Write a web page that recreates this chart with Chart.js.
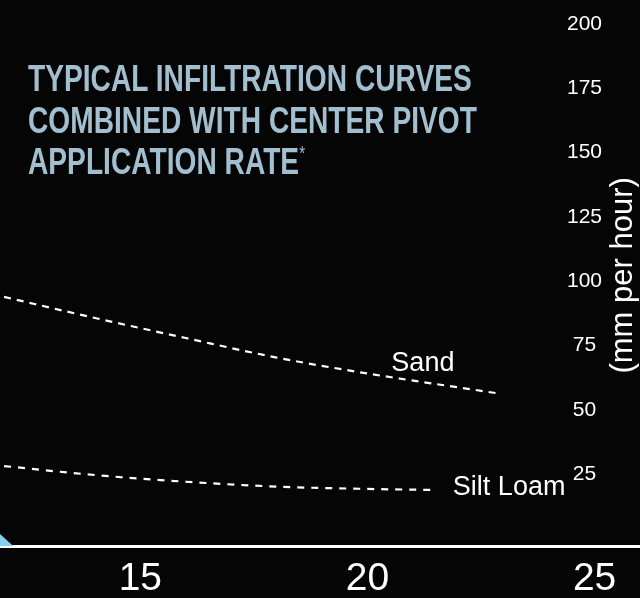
<!DOCTYPE html>
<html>
<head>
<meta charset="utf-8">
<script src="https://cdn.jsdelivr.net/npm/chart.js@4"></script>
<style>
  html, body { margin: 0; padding: 0; background: #050505; }
  #wrap { position: relative; width: 640px; height: 598px; overflow: hidden; }
  #title {
    position: absolute; left: 28px; top: 58px; margin: 0;
    display: inline-block; white-space: nowrap;
    font-family: "Liberation Sans", Arial, sans-serif;
    font-weight: bold; font-size: 37px; line-height: 41.5px;
    color: #a2bfcf; transform-origin: 0 0;
  }
  #title sup { font-size: 20px; vertical-align: 14px; line-height: 0; font-weight: normal; }
</style>
</head>
<body>
<div id="wrap">
  <canvas id="rateChart" width="640" height="598"></canvas>
  <h1 id="title">TYPICAL INFILTRATION CURVES<br>COMBINED WITH CENTER PIVOT<br>APPLICATION RATE<sup>*</sup></h1>
</div>
<script>
// valori (ore / mm per ora)
const xTicks = [15, 20, 25];
const yTicks = [25, 50, 75, 100, 125, 150, 175, 200];

const sandTime = [12, 14, 16, 18, 20, 22, 22.9];
const sandRate = [93.9, 85.7, 77.9, 70.3, 64.1, 58.7, 56.3];

const siltTime = [12, 14, 16, 18, 20, 21.5];
const siltRate = [28.1, 24.6, 22.0, 20.1, 19.2, 18.8];

// coda della curva di applicazione del pivot
const pivotTime = [11.6, 12.2];
const pivotRate = [6.7, -3];

const curveNames = ["Sand", "Silt Loam"];
const nameTime = [21.22, 21.88];
const nameRate = [67.8, 19.6];

const yTitle = "(mm per hour)";

// titolo stretto come un font condensed
const title = document.getElementById("title");
title.style.transform = "scaleX(" + (449 / title.offsetWidth) + ")";

const toPoints = (xs, ys) => xs.map((x, i) => ({ x: x, y: ys[i] }));

// etichette delle curve + titolo asse ruotato
const curveLabels = {
    id: 'curveLabels',
    afterDatasetsDraw(chart) {
        const ctx = chart.ctx;
        const xs = chart.scales.x;
        const ys = chart.scales.y;
        ctx.save();
        ctx.fillStyle = '#ffffff';
        ctx.font = '27px "Liberation Sans", Arial, sans-serif';
        ctx.textBaseline = 'middle';
        curveNames.forEach((name, i) => {
            ctx.textAlign = i == 0 ? 'center' : 'left';
            ctx.fillText(name, xs.getPixelForValue(nameTime[i]), ys.getPixelForValue(nameRate[i]));
        });
        // titolo asse y, letto dal basso verso l'alto
        ctx.font = '31px "Liberation Sans", Arial, sans-serif';
        ctx.textAlign = 'center';
        ctx.translate(chart.width - 17, (ys.getPixelForValue(100) + ys.getPixelForValue(75)) / 2 - 38);
        ctx.rotate(-Math.PI / 2);
        ctx.fillText(yTitle, 0, 0);
        ctx.restore();
    }
};

const ctx = document.getElementById('rateChart').getContext('2d');
const rateChart = new Chart(ctx, {
    type: 'line',
    data: {
        datasets: [{
            label: 'Pivot',
            data: toPoints(pivotTime, pivotRate),
            borderWidth: 0,
            backgroundColor: '#86cff0',
            fill: 'start',
            pointRadius: 0
        }, {
            label: 'Sand',
            data: toPoints(sandTime, sandRate),
            borderColor: '#ffffff',
            borderWidth: 2.2,
            borderDash: [7, 6],
            cubicInterpolationMode: 'monotone',
            fill: false,
            pointRadius: 0
        }, {
            label: 'Silt Loam',
            data: toPoints(siltTime, siltRate),
            borderColor: '#ffffff',
            borderWidth: 2.2,
            borderDash: [7, 7],
            cubicInterpolationMode: 'monotone',
            fill: false,
            pointRadius: 0
        }]
    },
    options: {
        responsive: false,
        animation: false,
        layout: { padding: 0 },
        plugins: {
            legend: { display: false },
            tooltip: { enabled: false }
        },
        scales: {
            x: {
                type: 'linear',
                min: 11.91,
                max: 26.0,
                afterBuildTicks: (scale) => { scale.ticks = xTicks.map(v => ({ value: v })); },
                afterFit: (scale) => { scale.height = 52; },
                grid: { display: false },
                border: { display: true, color: '#ffffff', width: 3 },
                ticks: {
                    color: '#ffffff',
                    padding: 2,
                    font: { family: '"Liberation Sans", Arial, sans-serif', size: 39 }
                }
            },
            y: {
                position: 'right',
                min: -3,
                max: 209.4,
                afterBuildTicks: (scale) => { scale.ticks = yTicks.map(v => ({ value: v })); },
                afterFit: (scale) => { scale.width = 0; },
                grid: { display: false },
                border: { display: false },
                ticks: {
                    mirror: true,
                    crossAlign: 'center',
                    padding: -38,
                    color: '#ffffff',
                    font: { family: '"Liberation Sans", Arial, sans-serif', size: 21 }
                }
            }
        }
    },
    plugins: [curveLabels]
});
</script>
</body>
</html>
